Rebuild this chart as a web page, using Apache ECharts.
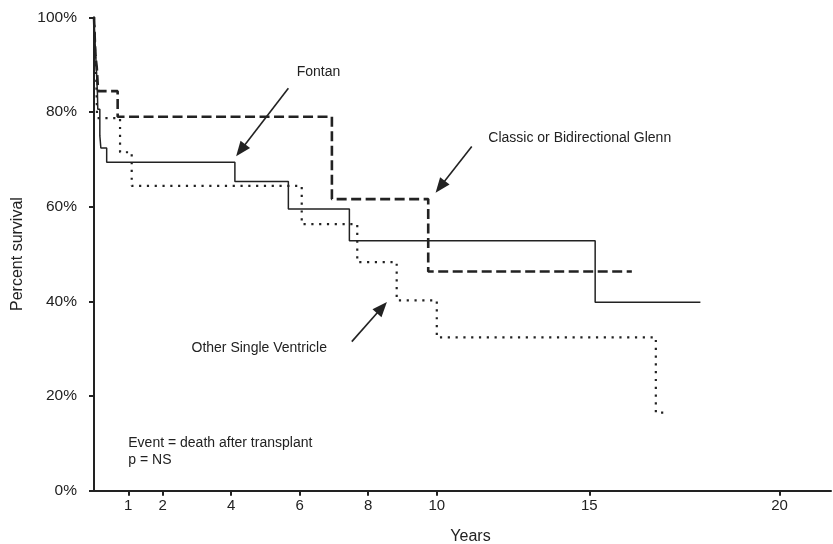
<!DOCTYPE html>
<html>
<head>
<meta charset="utf-8">
<script src="https://cdn.jsdelivr.net/npm/echarts@6/dist/echarts.min.js"></script>
<style>
html,body{margin:0;padding:0;background:#fff;}
#chart{width:833px;height:544px;}
</style>
</head>
<body>
<div id="chart"></div>
<script>
// Kaplan-Meier step data (years, percent surviving after each event)
const fontanYears   = [0, 0.03, 0.07, 0.1, 0.11, 0.17, 0.2, 0.37, 4.11, 5.67, 7.45, 14.62, 17.69];
const fontanSurv    = [100, 95, 89, 84, 80.6, 75, 72.4, 69.4, 65.3, 59.5, 52.8, 39.8, 39.8];
const glennYears    = [0, 0.04, 0.08, 0.12, 0.69, 6.94, 9.75, 15.69];
const glennSurv     = [100, 92, 89.5, 84.4, 79.0, 61.6, 46.3, 46.3];
const otherYears    = [0, 0.03, 0.07, 0.09, 0.76, 1.1, 6.06, 7.68, 8.83, 10.0, 16.39, 16.73];
const otherSurv     = [100, 93, 86, 78.7, 71.5, 64.4, 56.3, 48.3, 40.2, 32.4, 16.5, 16.5];

// Axis ticks
const xTickValues = [1, 2, 4, 6, 8, 10, 14.45, 20];
const xTickLabels = ['1', '2', '4', '6', '8', '10', '15', '20'];
const yTickLabels = ['0%', '20%', '40%', '60%', '80%', '100%'];

// Annotation texts and arrows (in data units)
const annotTexts = ['Fontan', 'Classic or Bidirectional Glenn', 'Other Single Ventricle'];
const annotTextPos = [[6.55, 88.5], [14.17, 74.4], [4.82, 30.1]];
const arrowFrom = [[5.67, 85.0], [11.02, 72.7], [7.52, 31.5]];
const arrowTo   = [[4.28, 71.9], [10.1, 64.2], [8.4, 38.7]];
const noteLines = ['Event = death after transplant', 'p = NS'];
const notePos = [[1.0, 10.03], [1.0, 6.57]];

const FONT = '"Liberation Sans", Arial, Helvetica, sans-serif';
const INK = '#222';

function zip(xs, ys) { return xs.map((x, i) => [x, ys[i]]); }

const chart = echarts.init(document.getElementById('chart'), null, {renderer: 'canvas'});

const markPointData = annotTexts.map((t, i) => ({
  coord: annotTextPos[i], value: t,
  label: {formatter: t, align: 'center', verticalAlign: 'middle'}
})).concat(noteLines.map((t, i) => ({
  coord: notePos[i], value: t,
  label: {formatter: t, align: 'left', verticalAlign: 'middle'}
})));

const option = {
  animation: false,
  backgroundColor: '#fff',
  textStyle: {fontFamily: FONT, color: INK},
  grid: {left: 94, right: 2, top: 17.3, bottom: 53.2, containLabel: false, outerBoundsMode: 'none'},
  xAxis: {
    type: 'value', min: 0, max: 21.5,
    name: 'Years', nameLocation: 'middle', nameGap: 38,
    nameTextStyle: {fontFamily: FONT, fontSize: 16, color: INK, padding: [0, 0, 0, 16]},
    axisLine: {show: true, onZero: false, lineStyle: {color: INK, width: 2}},
    axisTick: {show: true, inside: false, length: 5, customValues: xTickValues, lineStyle: {color: INK, width: 2}},
    axisLabel: {show: true, margin: 8, fontFamily: FONT, fontSize: 15, color: INK,
      customValues: xTickValues,
      formatter: function (v) {
        const idx = xTickValues.findIndex(t => Math.abs(t - v) < 1e-6);
        return idx >= 0 ? xTickLabels[idx] : '';
      }},
    splitLine: {show: false}
  },
  yAxis: {
    type: 'value', min: 0, max: 100, interval: 20,
    name: 'Percent survival', nameLocation: 'middle', nameGap: 68,
    nameTextStyle: {fontFamily: FONT, fontSize: 16, color: INK},
    axisLine: {show: true, onZero: false, lineStyle: {color: INK, width: 2}},
    axisTick: {show: true, inside: false, length: 5, lineStyle: {color: INK, width: 2}},
    axisLabel: {margin: 17, fontFamily: FONT, fontSize: 15.5, color: INK,
      formatter: function (v) { return yTickLabels[Math.round(v / 20)]; }},
    splitLine: {show: false}
  },
  series: [
    {
      name: 'Fontan', type: 'line', step: 'end', showSymbol: false, symbol: 'none',
      data: zip(fontanYears, fontanSurv),
      lineStyle: {color: INK, width: 1.5, type: 'solid'},
      emphasis: {disabled: true}, silent: true, z: 3
    },
    {
      name: 'Classic or Bidirectional Glenn', type: 'line', step: 'end', showSymbol: false, symbol: 'none',
      data: zip(glennYears, glennSurv),
      lineStyle: {color: INK, width: 2.6, type: [10, 4.5], cap: 'butt'},
      emphasis: {disabled: true}, silent: true, z: 2
    },
    {
      name: 'Other Single Ventricle', type: 'line', step: 'end', showSymbol: false, symbol: 'none',
      data: zip(otherYears, otherSurv),
      lineStyle: {color: INK, width: 2.2, type: [2.2, 5.6], cap: 'butt'},
      emphasis: {disabled: true}, silent: true, z: 2
    },
    {
      name: 'annotations', type: 'scatter', data: [], silent: true,
      markPoint: {
        symbol: 'circle', symbolSize: 0, silent: true, animation: false,
        label: {show: true, position: 'inside', fontFamily: FONT, fontSize: 14, color: INK},
        data: markPointData
      },
      markLine: {
        silent: true, animation: false,
        symbol: ['none', 'triangle'], symbolSize: [12, 15],
        label: {show: false},
        lineStyle: {color: INK, width: 1.6, type: 'solid'},
        emphasis: {disabled: true},
        data: arrowFrom.map((f, i) => [{coord: f}, {coord: arrowTo[i]}])
      }
    }
  ]
};

chart.setOption(option);
</script>
</body>
</html>
